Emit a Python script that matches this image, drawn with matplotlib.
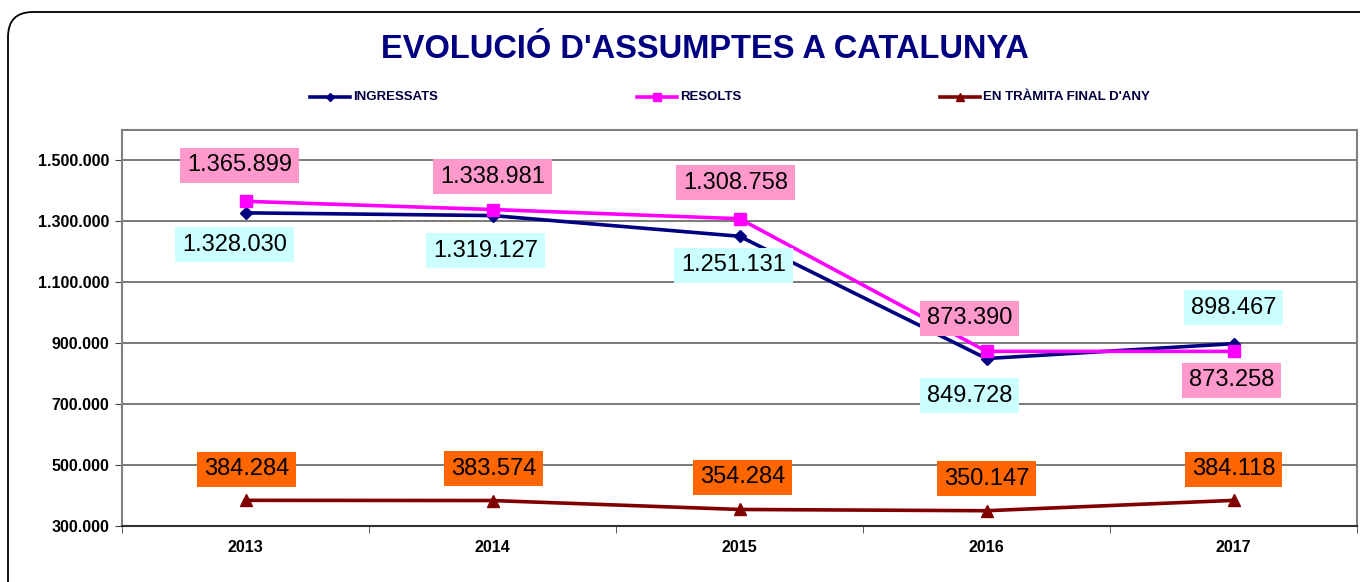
import matplotlib
matplotlib.use('Agg')
from matplotlib import pyplot as plt
from matplotlib.lines import Line2D
from matplotlib.patches import FancyBboxPatch
from matplotlib.ticker import FuncFormatter, FixedLocator

years = ['2013', '2014', '2015', '2016', '2017']
ingressats = [1328030, 1319127, 1251131, 849728, 898467]
resolts = [1365899, 1338981, 1308758, 873390, 873258]
en_tramita = [384284, 383574, 354284, 350147, 384118]

# label offsets in pixels (dx, dy) relative to each point
off_ingr = [(-11, -32), (-7, -35), (-6, -29), (-17, -37), (0, 36)]
off_res = [(-6, 36), (0, 33), (-4, 36), (-17, 33), (-2, -29)]
off_tram = [(1, 31), (1, 32), (3, 32), (0, 32), (0, 31)]

plt.rcParams['font.family'] = ['Liberation Sans', 'DejaVu Sans']


def fmt(v):
    return f"{int(v):,}".replace(',', '.')


fig = plt.figure(figsize=(13.6, 5.82), dpi=100)
fig.patch.set_facecolor('white')

# rounded outer frame
frame = FancyBboxPatch((0.08, -0.5), 14.0, 6.2, boxstyle='round,pad=0,rounding_size=0.25',
                       transform=fig.dpi_scale_trans, facecolor='none', edgecolor='black',
                       linewidth=1.3, clip_on=False)
fig.add_artist(frame)

ax = fig.add_axes([122 / 1360, 1 - 526 / 582, (1357 - 122) / 1360, (526 - 130) / 582])
x = list(range(len(years)))

ax.plot(x, ingressats, color='#000080', lw=2.6, marker='D', ms=6, zorder=4)
ax.plot(x, resolts, color='#FF00FF', lw=2.6, marker='s', ms=9, zorder=5)
ax.plot(x, en_tramita, color='#800000', lw=2.6, marker='^', ms=9, zorder=4)

box_font = 17
box_style = 'square,pad=0.28'
for xi, v, o in zip(x, ingressats, off_ingr):
    ax.annotate(fmt(v), (xi, v), xytext=o, textcoords='offset pixels', ha='center', va='center',
                fontsize=box_font, color='black', zorder=6,
                bbox=dict(boxstyle=box_style, facecolor='#CCFFFF', edgecolor='none'))
for xi, v, o in zip(x, resolts, off_res):
    ax.annotate(fmt(v), (xi, v), xytext=o, textcoords='offset pixels', ha='center', va='center',
                fontsize=box_font, color='black', zorder=6,
                bbox=dict(boxstyle=box_style, facecolor='#FF99CC', edgecolor='none'))
for xi, v, o in zip(x, en_tramita, off_tram):
    ax.annotate(fmt(v), (xi, v), xytext=o, textcoords='offset pixels', ha='center', va='center',
                fontsize=box_font, color='black', zorder=6,
                bbox=dict(boxstyle=box_style, facecolor='#FF6600', edgecolor='none'))

ax.set_xlim(-0.5, len(years) - 0.5)
ax.set_ylim(300000, 1600000)
ax.set_yticks(range(300000, 1600001, 200000))
ax.yaxis.set_major_formatter(FuncFormatter(lambda v, p: fmt(v)))
ax.set_xticks(x)
ax.set_xticklabels(years)
ax.xaxis.set_minor_locator(FixedLocator([i - 0.5 for i in range(len(years) + 1)]))
ax.tick_params(axis='x', which='major', length=0, pad=10)
ax.tick_params(axis='x', which='minor', length=5, color='#404040', direction='out')
ax.tick_params(axis='y', length=5, color='#404040', direction='out', pad=4)
for lab in ax.get_xticklabels() + ax.get_yticklabels():
    lab.set_fontweight('bold')
    lab.set_fontsize(11.5)

ax.grid(axis='y', color='#555555', lw=1.1)
ax.set_axisbelow(True)
for s in ['left', 'top', 'right']:
    ax.spines[s].set_color('#808080')
    ax.spines[s].set_linewidth(1.5)
ax.spines['bottom'].set_color('#303030')
ax.spines['bottom'].set_linewidth(1.5)

fig.text(0.518, 1 - 50 / 582, "EVOLUCIÓ D'ASSUMPTES A CATALUNYA", ha='center', va='center',
         fontsize=23.5, fontweight='bold', color='#000080')

# legend
legend_items = [
    (310, 'INGRESSATS', '#000080', 'D', 4),
    (637, 'RESOLTS', '#FF00FF', 's', 6),
    (940, "EN TRÀMITA FINAL D'ANY", '#800000', '^', 6),
]
ly = 1 - 97 / 582
for lx, name, col, mk, ms in legend_items:
    fig.add_artist(Line2D([lx / 1360, (lx + 40) / 1360], [ly, ly], color=col, lw=2.6,
                          marker=None, transform=fig.transFigure))
    fig.add_artist(Line2D([(lx + 20) / 1360], [ly], color=col, marker=mk, ms=ms,
                          transform=fig.transFigure))
    fig.text((lx + 43) / 1360, ly, name, ha='left', va='center', fontsize=9.5,
             fontweight='bold', color='#000040')

fig.savefig('out.png', dpi=100)
